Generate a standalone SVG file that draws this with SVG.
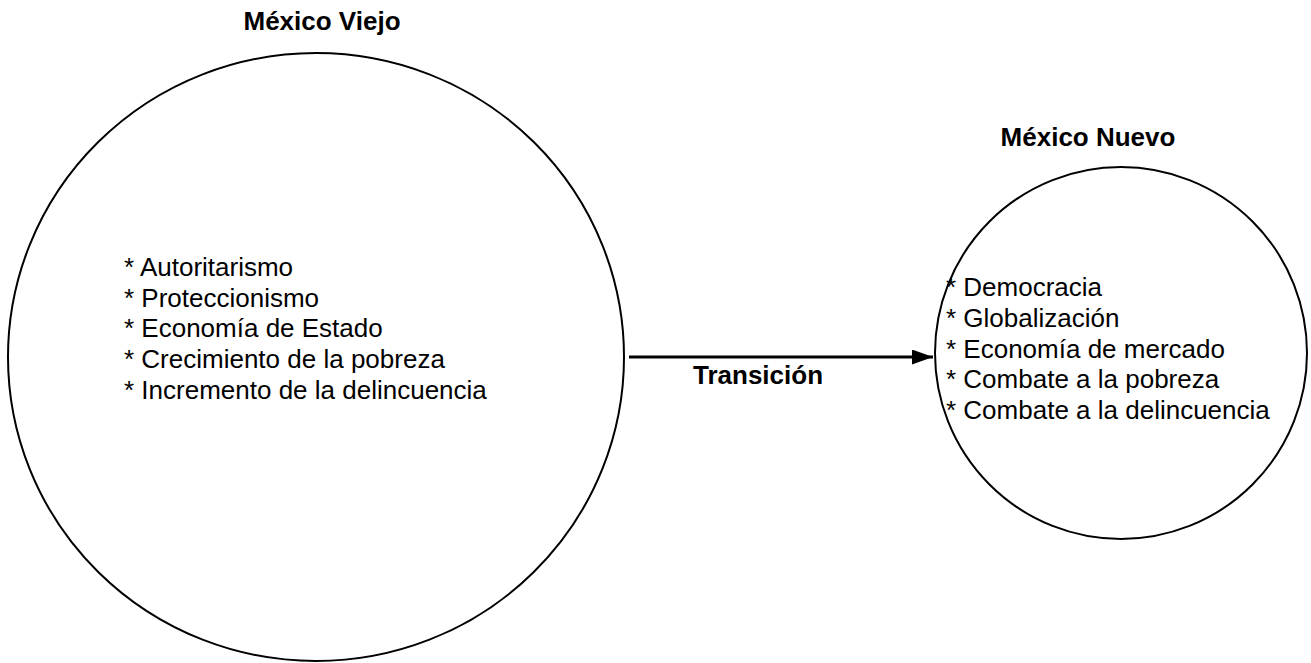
<svg xmlns="http://www.w3.org/2000/svg" width="1311" height="663" viewBox="0 0 1311 663">
<style>
.c{fill:none;stroke:#000;stroke-width:2}
.t{font-family:"Liberation Sans",Arial,sans-serif;font-size:26px;fill:#000}
.b{font-family:"Liberation Sans",Arial,sans-serif;font-size:26px;font-weight:bold;fill:#000;text-anchor:middle}
</style>
<defs>
<marker id="ah" markerWidth="7" markerHeight="5" refX="7" refY="2.5" orient="auto" markerUnits="strokeWidth">
<path d="M0,0 L7,2.5 L0,5 Z" fill="#000"/>
</marker>
</defs>
<rect width="1311" height="663" fill="#fff"/>
<g id="viejo">
<text class="b" x="322" y="30">México Viejo</text>
<ellipse class="c" cx="316" cy="357" rx="308" ry="304"/>
<text class="t" x="124" y="276">* Autoritarismo</text>
<text class="t" x="124" y="307">* Proteccionismo</text>
<text class="t" x="124" y="337">* Economía de Estado</text>
<text class="t" x="124" y="368">* Crecimiento de la pobreza</text>
<text class="t" x="124" y="399">* Incremento de la delincuencia</text>
</g>
<g id="nuevo">
<text class="b" x="1088" y="146">México Nuevo</text>
<circle class="c" cx="1121" cy="353" r="186"/>
<text class="t" x="946" y="296">* Democracia</text>
<text class="t" x="946" y="327">* Globalización</text>
<text class="t" x="946" y="358">* Economía de mercado</text>
<text class="t" x="946" y="388">* Combate a la pobreza</text>
<text class="t" x="946" y="419">* Combate a la delincuencia</text>
</g>
<g id="connectors">
<line x1="629" y1="357" x2="933" y2="357" stroke="#000" stroke-width="3" marker-end="url(#ah)"/>
<text class="b" x="758" y="384">Transición</text>
</g>
</svg>
